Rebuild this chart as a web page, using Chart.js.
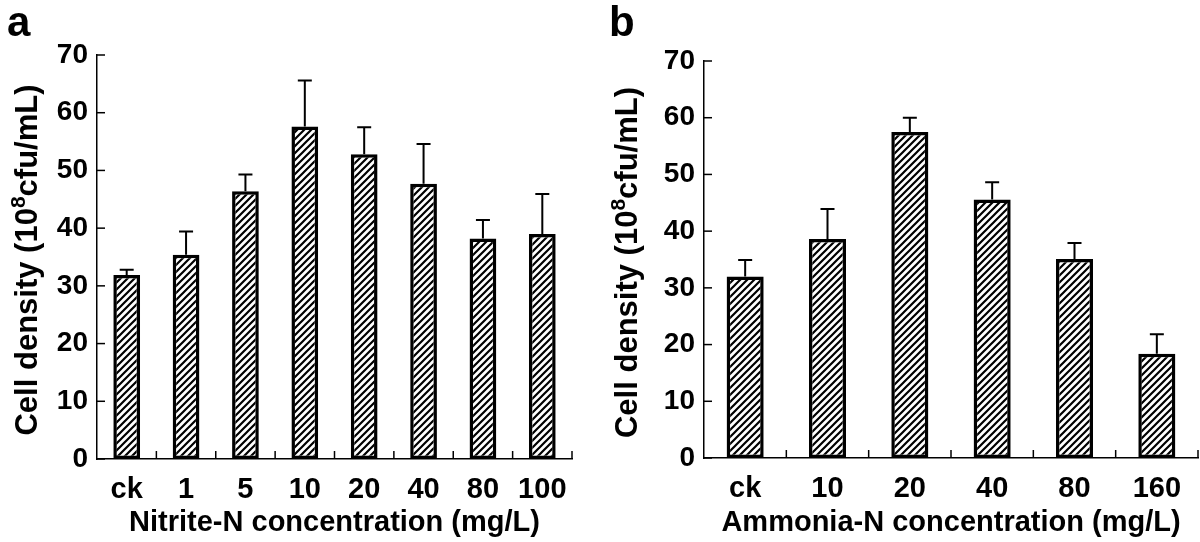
<!DOCTYPE html>
<html lang="en">
<head>
  <meta charset="UTF-8">
  <title>Cell density vs nitrogen concentration</title>
  <script src="https://cdn.jsdelivr.net/npm/chart.js"></script>
  <style>
    body {
      margin: 0;
      padding: 0;
      background: #fff;
    }
    .wrap {
      position: relative;
      width: 1200px;
      height: 542px;
    }
    .panel {
      position: absolute;
      top: 0;
      width: 600px;
      height: 542px;
    }
  </style>
</head>
<body>
  <div class="wrap">
    <div class="panel" style="left:0"><canvas id="chartA" width="600" height="542"></canvas></div>
    <div class="panel" style="left:600px"><canvas id="chartB" width="600" height="542"></canvas></div>
  </div>

  <script>
    // panel a: nitrite-N
    const nitriteLabels = ['ck', '1', '5', '10', '20', '40', '80', '100'];
    const nitriteDensity = [31.9, 35.4, 46.4, 57.6, 52.8, 47.7, 38.2, 39.0];
    const nitriteError = [0.9, 4.0, 2.9, 8.0, 4.7, 6.9, 3.2, 6.9];

    // panel b: ammonia-N
    const ammoniaLabels = ['ck', '10', '20', '40', '80', '160'];
    const ammoniaDensity = [32.0, 38.6, 57.5, 45.6, 35.1, 18.4];
    const ammoniaError = [2.9, 5.3, 2.5, 3.0, 2.8, 3.4];

    const yTicks = [0, 10, 20, 30, 40, 50, 60, 70];

    const FONT = '"Liberation Sans", Arial, sans-serif';

    // diagonal hatch fill for the bars
    function makeHatch() {
      const s = 7;
      const c = document.createElement('canvas');
      c.width = s;
      c.height = s;
      const g = c.getContext('2d');
      g.fillStyle = '#fff';
      g.fillRect(0, 0, s, s);
      g.strokeStyle = '#000';
      g.lineWidth = 2.2;
      g.beginPath();
      g.moveTo(-1, s + 1); g.lineTo(s + 1, -1);
      g.moveTo(-1, 1); g.lineTo(1, -1);
      g.moveTo(s - 1, s + 1); g.lineTo(s + 1, s - 1);
      g.stroke();
      return g.createPattern(c, 'repeat');
    }

    // inward tick marks, error bars, rotated y title and panel letter
    const decorations = {
      id: 'decorations',
      afterDatasetsDraw(chart, args, opts) {
        const ctx = chart.ctx;
        const x = chart.scales.x;
        const y = chart.scales.y;
        const area = chart.chartArea;
        ctx.save();
        ctx.strokeStyle = '#000';

        // error bars (upper half only)
        ctx.lineWidth = 2;
        const meta = chart.getDatasetMeta(0);
        meta.data.forEach((bar, i) => {
          const v = opts.values[i];
          const top = y.getPixelForValue(v);
          const end = y.getPixelForValue(v + opts.errors[i]);
          ctx.beginPath();
          ctx.moveTo(bar.x, top);
          ctx.lineTo(bar.x, end);
          ctx.moveTo(bar.x - 7, end);
          ctx.lineTo(bar.x + 7, end);
          ctx.stroke();
        });

        // y ticks pointing right
        ctx.lineWidth = 1.5;
        yTicks.forEach(t => {
          const py = y.getPixelForValue(t);
          ctx.beginPath();
          ctx.moveTo(area.left, py);
          ctx.lineTo(area.left + 8, py);
          ctx.stroke();
        });

        // x ticks between categories pointing up
        const n = opts.values.length;
        const xs = [];
        for (let i = 0; i < n - 1; i++) {
          xs.push((x.getPixelForValue(i) + x.getPixelForValue(i + 1)) / 2);
        }
        xs.push(area.right);
        xs.forEach(px => {
          ctx.beginPath();
          ctx.moveTo(px, area.bottom);
          ctx.lineTo(px, area.bottom - 8);
          ctx.stroke();
        });

        // y axis title with superscript
        ctx.fillStyle = '#000';
        ctx.textBaseline = 'middle';
        const big = 'bold 31px ' + FONT;
        const small = 'bold 21px ' + FONT;
        const p1 = 'Cell density (10', p2 = '8', p3 = 'cfu/mL)';
        ctx.font = big;
        const w1 = ctx.measureText(p1).width;
        const w3 = ctx.measureText(p3).width;
        ctx.font = small;
        const w2 = ctx.measureText(p2).width;
        const total = w1 + w2 + w3;
        ctx.translate(28, (area.top + area.bottom) / 2 + 3);
        ctx.rotate(-Math.PI / 2);
        let cx = -total / 2;
        ctx.font = big;
        ctx.fillText(p1, cx, 0);
        cx += w1;
        ctx.font = small;
        ctx.fillText(p2, cx, -9);
        cx += w2;
        ctx.font = big;
        ctx.fillText(p3, cx, 0);
        ctx.restore();

        // panel letter
        ctx.save();
        ctx.fillStyle = '#000';
        ctx.font = 'bold 42px ' + FONT;
        ctx.textBaseline = 'alphabetic';
        ctx.fillText(opts.letter, opts.letterX, 36);
        ctx.restore();
      }
    };

    function makePanel(id, labels, values, errors, xTitle, box, letter, letterX) {
      const ctx = document.getElementById(id).getContext('2d');
      return new Chart(ctx, {
        type: 'bar',
        data: {
          labels: labels,
          datasets: [{
            data: values,
            backgroundColor: makeHatch(),
            borderColor: '#000',
            borderWidth: 3.5,
            borderSkipped: false,
            categoryPercentage: 1,
            barPercentage: 0.45
          }]
        },
        options: {
          responsive: false,
          animation: false,
          events: [],
          layout: {
            padding: { left: 0, top: box.top, right: 600 - box.right, bottom: 0 }
          },
          plugins: {
            legend: { display: false },
            tooltip: { enabled: false },
            decorations: { values: values, errors: errors, letter: letter, letterX: letterX }
          },
          scales: {
            x: {
              grid: { display: false, drawTicks: false },
              border: { display: true, color: '#000', width: 1.5 },
              ticks: {
                color: '#000',
                padding: 14,
                font: { family: FONT, size: 29, weight: 'bold' }
              },
              title: {
                display: true,
                text: xTitle,
                color: '#000',
                padding: { top: 0, bottom: 2 },
                font: { family: FONT, size: 29, weight: 'bold' }
              },
              afterFit(scale) { scale.height = 542 - box.bottom; }
            },
            y: {
              min: 0,
              max: 70,
              grid: { display: false, drawTicks: false },
              border: { display: true, color: '#000', width: 1.5 },
              ticks: {
                stepSize: 10,
                color: '#000',
                padding: 9,
                font: { family: FONT, size: 28, weight: 'bold' }
              },
              afterFit(scale) { scale.width = box.left; }
            }
          }
        },
        plugins: [decorations]
      });
    }

    makePanel('chartA', nitriteLabels, nitriteDensity, nitriteError,
      'Nitrite-N concentration (mg/L)', { left: 97, right: 572, top: 55, bottom: 459 }, 'a', 7);
    makePanel('chartB', ammoniaLabels, ammoniaDensity, ammoniaError,
      'Ammonia-N concentration (mg/L)', { left: 104, right: 598, top: 61, bottom: 458 }, 'b', 9);
  </script>
</body>
</html>
